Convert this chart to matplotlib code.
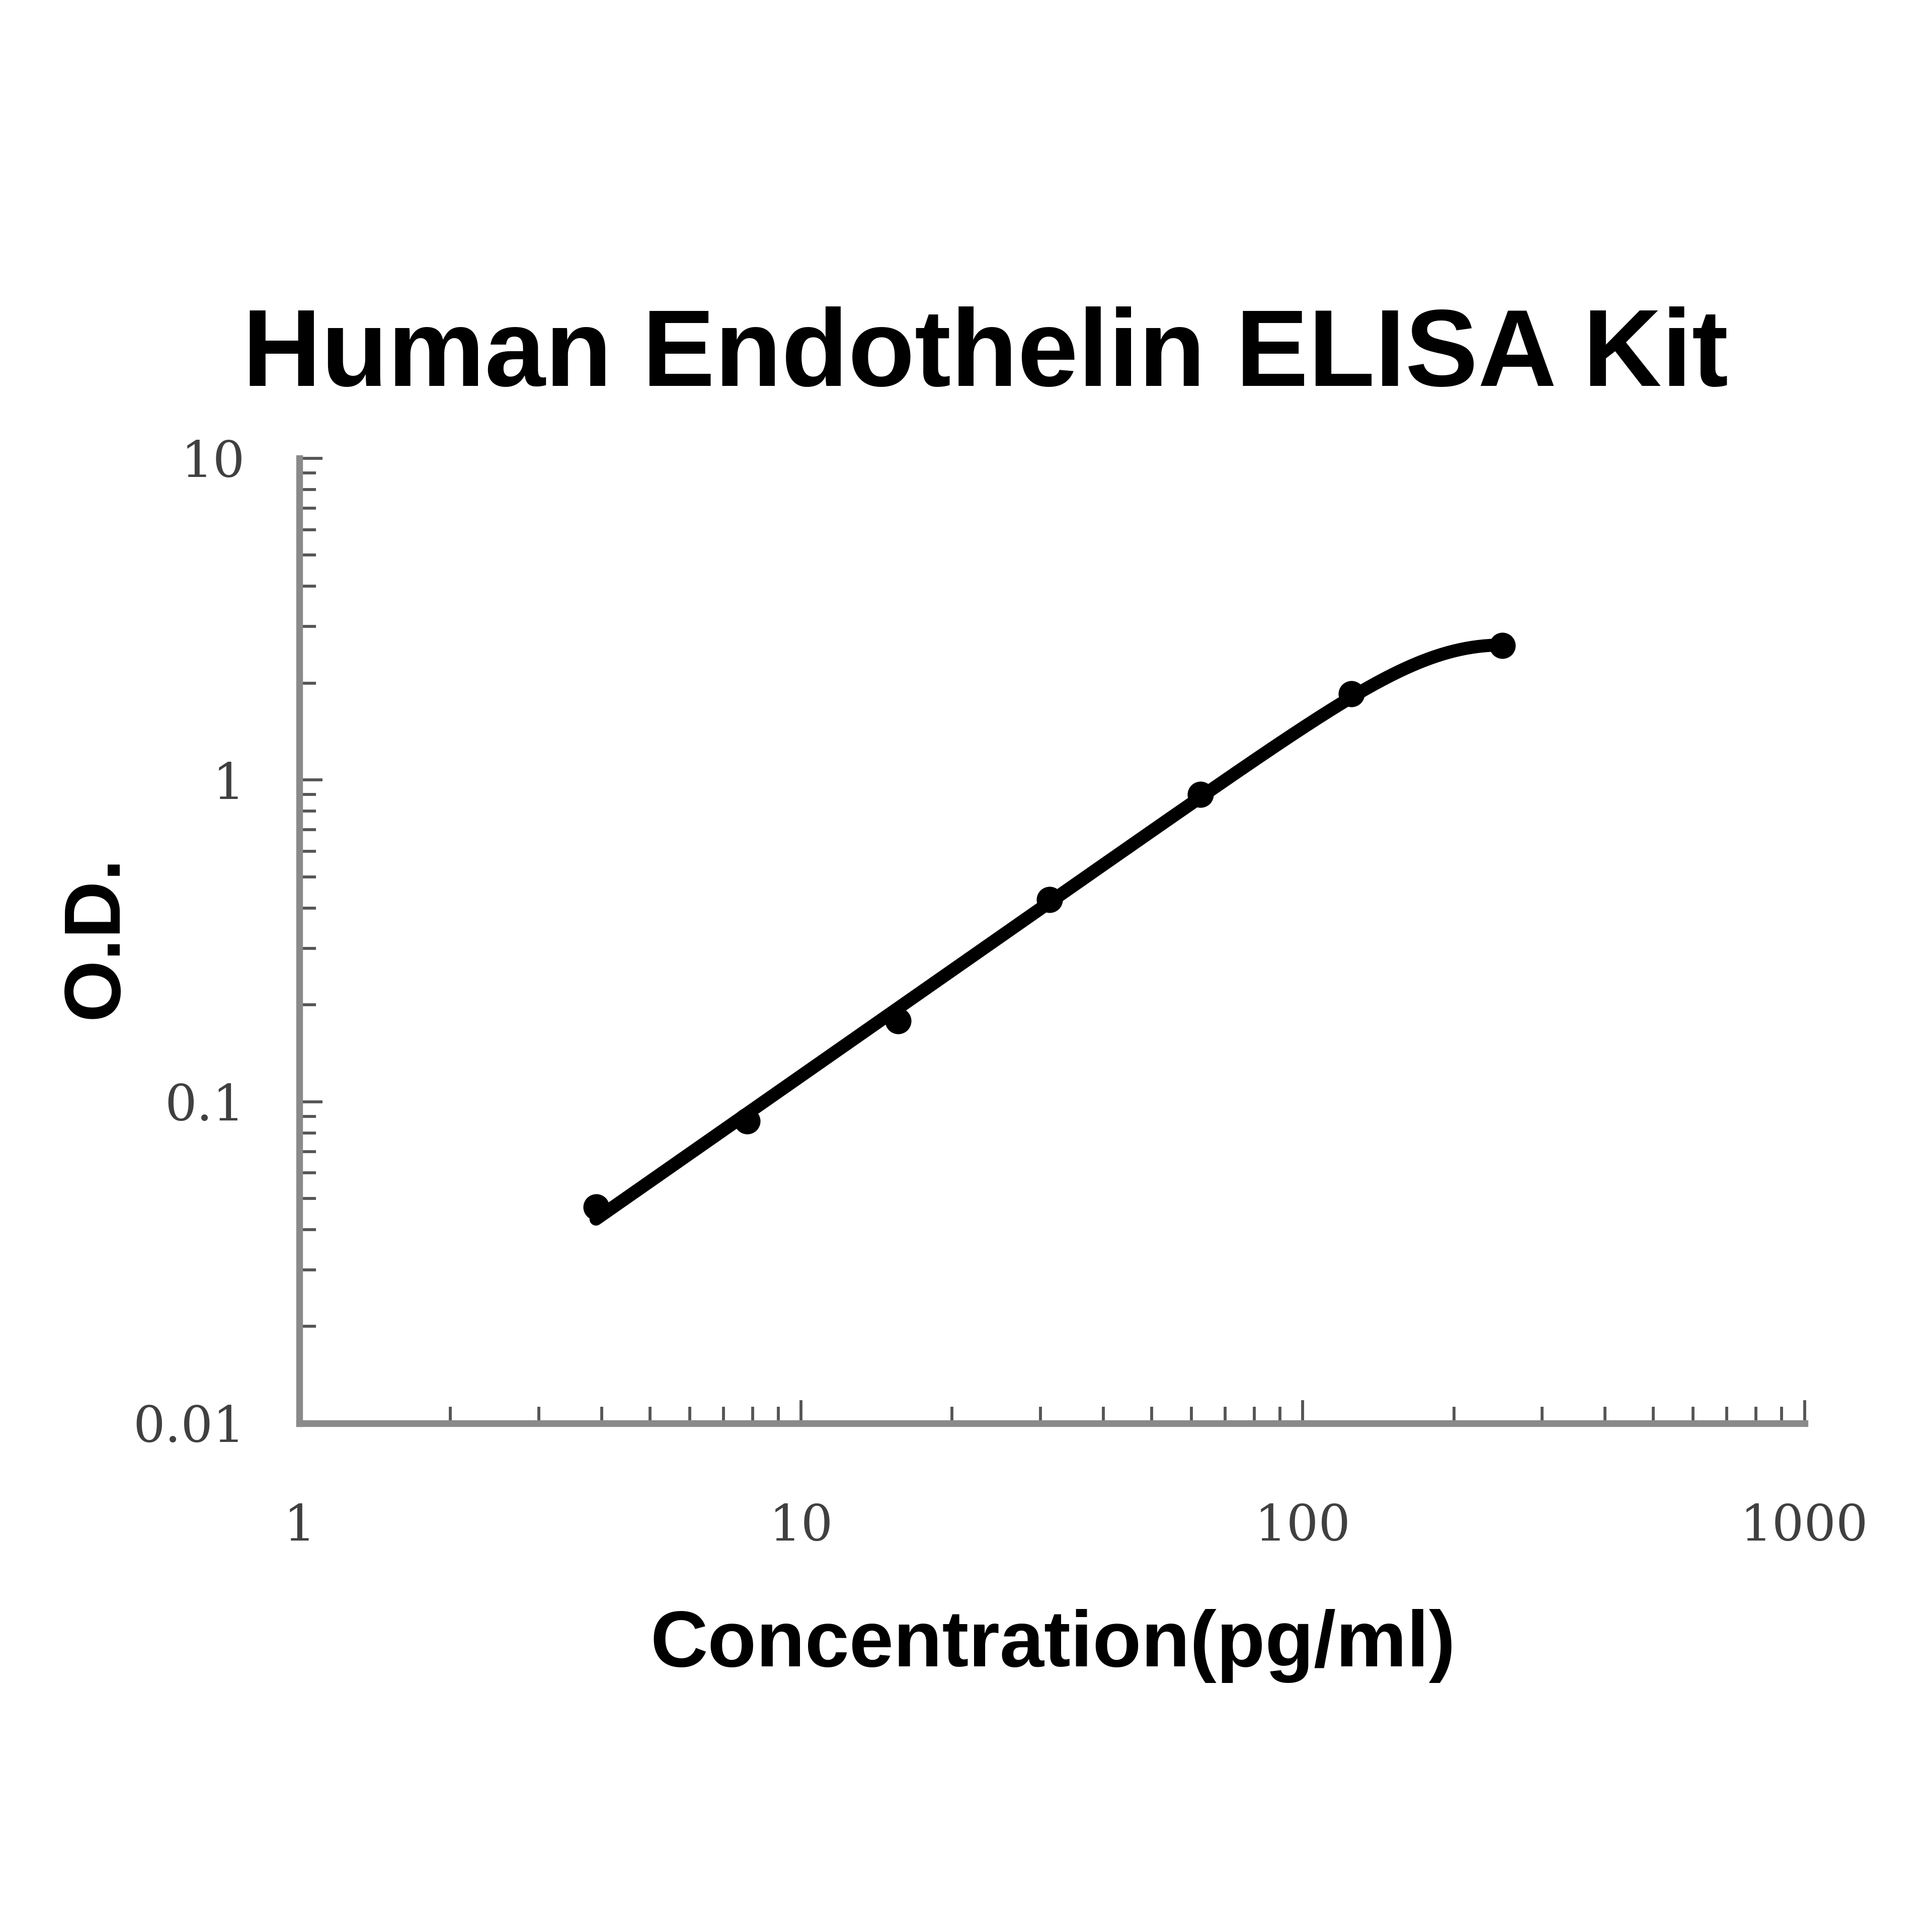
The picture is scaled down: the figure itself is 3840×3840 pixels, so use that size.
import matplotlib
matplotlib.use('Agg')
import matplotlib.pyplot as plt
import numpy as np
from matplotlib.ticker import LogLocator, FixedLocator, NullFormatter

# standard curve
conc = [3.9, 7.8, 15.6, 31.25, 62.5, 125, 250]
od = [0.047, 0.087, 0.178, 0.425, 0.90, 1.85, 2.62]
x_ticks = [1, 10, 100, 1000]
x_labels = ['1', '10', '100', '1000']
y_ticks = [0.01, 0.1, 1, 10]
y_labels = ['0.01', '0.1', '1', '10']

x = np.array(conc)
L = np.log10(x)
ly = np.log10(od)
xs = np.logspace(np.log10(conc[0]), np.log10(conc[-1]), 300)


def design(xv, c, k):
    return np.column_stack([np.ones_like(xv), np.log10(xv),
                            -np.log10(1 + (xv / c) ** k)])


# log-log line with a saturating bend at the top, grid over bend point/sharpness
# (only keep curves that never go down)
best = None
for c in np.logspace(1.5, 3.0, 100):
    for k in np.linspace(1, 4, 61):
        A = design(x, c, k)
        sol, *_ = np.linalg.lstsq(A, ly, rcond=None)
        if sol[2] < 0:
            continue
        curve = design(xs, c, k) @ sol
        if np.any(np.diff(curve) < -1e-6):
            continue
        err = np.sum((A @ sol - ly) ** 2)
        if best is None or err < best[0]:
            best = (err, c, k, sol)
_, c, k, sol = best

ys = 10 ** (design(xs, c, k) @ sol)

fig = plt.figure(figsize=(12.8, 12.8), dpi=300)
ax = fig.add_axes([0.155, 0.2633, 0.779, 0.4995])

ax.plot(xs, ys, color='black', lw=6.2, solid_capstyle='round', zorder=3)
ax.plot(conc, od, 'o', color='black', ms=11.5, zorder=4)

ax.set_xscale('log')
ax.set_yscale('log')
ax.set_xlim(1, 1000)
ax.set_ylim(0.01, 10)

ax.xaxis.set_major_locator(FixedLocator(x_ticks))
ax.yaxis.set_major_locator(FixedLocator(y_ticks))
ax.set_xticklabels(x_labels)
ax.set_yticklabels(y_labels)
ax.xaxis.set_minor_locator(LogLocator(base=10, subs=np.arange(2, 10)))
ax.yaxis.set_minor_locator(LogLocator(base=10, subs=np.arange(2, 10)))
ax.xaxis.set_minor_formatter(NullFormatter())
ax.yaxis.set_minor_formatter(NullFormatter())

for s in ['top', 'right']:
    ax.spines[s].set_visible(False)
for s in ['left', 'bottom']:
    ax.spines[s].set_color('#8a8a8a')
    ax.spines[s].set_linewidth(3.2)

ax.tick_params(which='major', direction='in', length=11, width=1.4, color='#555555')
ax.tick_params(which='minor', direction='in', length=8, width=1.4, color='#555555')
ax.tick_params(axis='x', which='major', pad=38)
ax.tick_params(axis='y', which='major', pad=26)
for lab in ax.get_xticklabels() + ax.get_yticklabels():
    lab.set_fontfamily('DejaVu Serif')
    lab.set_fontsize(24)
    lab.set_color('#404040')

fig.text(0.51, 0.815, 'Human Endothelin ELISA Kit', ha='center', va='center',
         fontsize=52, fontweight='bold', family='Liberation Sans')
fig.text(0.545, 0.148, 'Concentration(pg/ml)', ha='center', va='center',
         fontsize=38, fontweight='bold', family='Liberation Sans')
fig.text(0.05, 0.515, 'O.D.', ha='center', va='center', rotation=90,
         fontsize=38, fontweight='bold', family='Liberation Sans')

fig.savefig('out.png', dpi=300, facecolor='white')
